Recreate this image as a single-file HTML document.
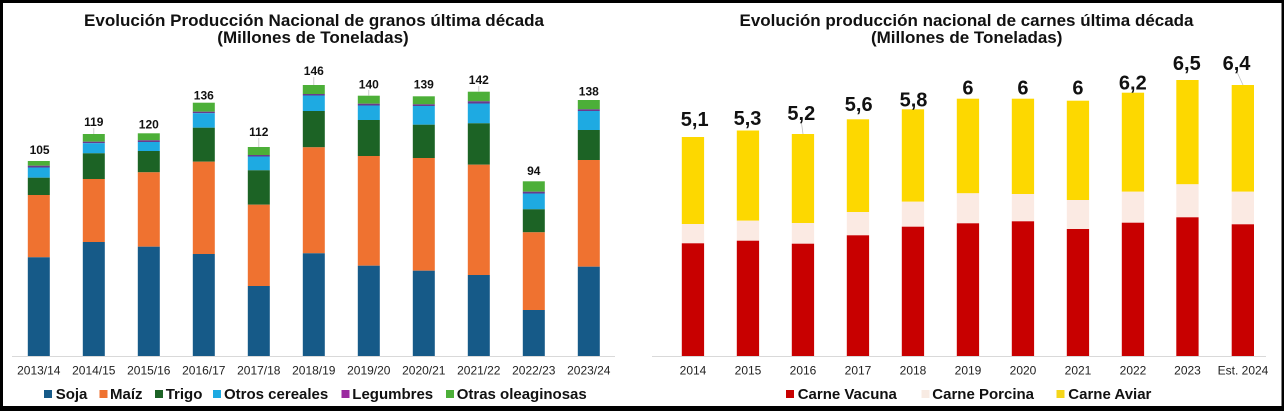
<!DOCTYPE html>
<html><head><meta charset="utf-8">
<style>
html,body{margin:0;padding:0;background:#000;}
svg{display:block;}
text{font-family:"Liberation Sans",Arial,sans-serif;}
</style></head>
<body>
<svg width="1284" height="411" viewBox="0 0 1284 411" xmlns="http://www.w3.org/2000/svg">
<rect x="0" y="0" width="1284" height="411" fill="#000"/>
<rect x="3" y="3" width="1278.5" height="403" fill="#fff"/>

<!-- LEFT TITLE -->
<text x="314" y="26" font-size="17" font-weight="bold" text-anchor="middle" fill="#111" textLength="460" lengthAdjust="spacingAndGlyphs">Evolución Producción Nacional de granos última década</text>
<text x="313" y="43" font-size="17" font-weight="bold" text-anchor="middle" fill="#111">(Millones de Toneladas)</text>

<!-- LEFT AXIS -->
<line x1="12" y1="356.5" x2="615" y2="356.5" stroke="#d9d9d9" stroke-width="1"/>

<g id="leftbars">
<rect x="27.8" y="161" width="22" height="4.7" fill="#4caf38"/>
<rect x="27.8" y="165.7" width="22" height="1.8" fill="#6a3a8e"/>
<rect x="27.8" y="167.5" width="22" height="10.2" fill="#1eaae2"/>
<rect x="27.8" y="177.7" width="22" height="17.3" fill="#1c6325"/>
<rect x="27.8" y="195" width="22" height="62.3" fill="#ef7230"/>
<rect x="27.8" y="257.3" width="22" height="98.7" fill="#165a88"/>

<rect x="82.8" y="134" width="22" height="7.7" fill="#4caf38"/>
<rect x="82.8" y="141.7" width="22" height="1.5" fill="#6a3a8e"/>
<rect x="82.8" y="143.2" width="22" height="10.1" fill="#1eaae2"/>
<rect x="82.8" y="153.3" width="22" height="25.7" fill="#1c6325"/>
<rect x="82.8" y="179" width="22" height="63" fill="#ef7230"/>
<rect x="82.8" y="242" width="22" height="114" fill="#165a88"/>

<rect x="137.8" y="133.3" width="22" height="7" fill="#4caf38"/>
<rect x="137.8" y="140.3" width="22" height="1.7" fill="#6a3a8e"/>
<rect x="137.8" y="142" width="22" height="9" fill="#1eaae2"/>
<rect x="137.8" y="151" width="22" height="21.3" fill="#1c6325"/>
<rect x="137.8" y="172.3" width="22" height="74.4" fill="#ef7230"/>
<rect x="137.8" y="246.7" width="22" height="109.3" fill="#165a88"/>

<rect x="192.8" y="102.7" width="22" height="9" fill="#4caf38"/>
<rect x="192.8" y="111.7" width="22" height="1.5" fill="#6a3a8e"/>
<rect x="192.8" y="113.2" width="22" height="14.5" fill="#1eaae2"/>
<rect x="192.8" y="127.7" width="22" height="34" fill="#1c6325"/>
<rect x="192.8" y="161.7" width="22" height="92.3" fill="#ef7230"/>
<rect x="192.8" y="254" width="22" height="102" fill="#165a88"/>

<rect x="247.8" y="147" width="22" height="8" fill="#4caf38"/>
<rect x="247.8" y="155" width="22" height="1.5" fill="#6a3a8e"/>
<rect x="247.8" y="156.5" width="22" height="13.8" fill="#1eaae2"/>
<rect x="247.8" y="170.3" width="22" height="34.4" fill="#1c6325"/>
<rect x="247.8" y="204.7" width="22" height="81.3" fill="#ef7230"/>
<rect x="247.8" y="286" width="22" height="70" fill="#165a88"/>

<rect x="302.8" y="85" width="22" height="9" fill="#4caf38"/>
<rect x="302.8" y="94" width="22" height="1.5" fill="#6a3a8e"/>
<rect x="302.8" y="95.5" width="22" height="15.5" fill="#1eaae2"/>
<rect x="302.8" y="111" width="22" height="36.3" fill="#1c6325"/>
<rect x="302.8" y="147.3" width="22" height="106" fill="#ef7230"/>
<rect x="302.8" y="253.3" width="22" height="102.7" fill="#165a88"/>

<rect x="357.8" y="95.7" width="22" height="8" fill="#4caf38"/>
<rect x="357.8" y="103.7" width="22" height="1.8" fill="#6a3a8e"/>
<rect x="357.8" y="105.5" width="22" height="14.5" fill="#1eaae2"/>
<rect x="357.8" y="120" width="22" height="36" fill="#1c6325"/>
<rect x="357.8" y="156" width="22" height="109.7" fill="#ef7230"/>
<rect x="357.8" y="265.7" width="22" height="90.3" fill="#165a88"/>

<rect x="412.8" y="96.3" width="22" height="8" fill="#4caf38"/>
<rect x="412.8" y="104.3" width="22" height="1.7" fill="#6a3a8e"/>
<rect x="412.8" y="106" width="22" height="18.7" fill="#1eaae2"/>
<rect x="412.8" y="124.7" width="22" height="33.3" fill="#1c6325"/>
<rect x="412.8" y="158" width="22" height="112.7" fill="#ef7230"/>
<rect x="412.8" y="270.7" width="22" height="85.3" fill="#165a88"/>

<rect x="467.8" y="91.7" width="22" height="9.6" fill="#4caf38"/>
<rect x="467.8" y="101.3" width="22" height="2.2" fill="#6a3a8e"/>
<rect x="467.8" y="103.5" width="22" height="19.8" fill="#1eaae2"/>
<rect x="467.8" y="123.3" width="22" height="41.4" fill="#1c6325"/>
<rect x="467.8" y="164.7" width="22" height="110.3" fill="#ef7230"/>
<rect x="467.8" y="275" width="22" height="81" fill="#165a88"/>

<rect x="522.8" y="181.3" width="22" height="10.4" fill="#4caf38"/>
<rect x="522.8" y="191.7" width="22" height="1.8" fill="#6a3a8e"/>
<rect x="522.8" y="193.5" width="22" height="15.8" fill="#1eaae2"/>
<rect x="522.8" y="209.3" width="22" height="23" fill="#1c6325"/>
<rect x="522.8" y="232.3" width="22" height="77.7" fill="#ef7230"/>
<rect x="522.8" y="310" width="22" height="46" fill="#165a88"/>

<rect x="577.8" y="100" width="22" height="9.3" fill="#4caf38"/>
<rect x="577.8" y="109.3" width="22" height="1.7" fill="#6a3a8e"/>
<rect x="577.8" y="111" width="22" height="19" fill="#1eaae2"/>
<rect x="577.8" y="130" width="22" height="30" fill="#1c6325"/>
<rect x="577.8" y="160" width="22" height="106.7" fill="#ef7230"/>
<rect x="577.8" y="266.7" width="22" height="89.3" fill="#165a88"/>
</g>

<g stroke="#bfbfbf" stroke-width="0.8">
<line x1="93.8" y1="128" x2="93.8" y2="134"/>
<line x1="258.8" y1="138" x2="258.8" y2="147"/>
<line x1="313.8" y1="77" x2="313.8" y2="85"/>
<line x1="368.8" y1="90" x2="368.8" y2="95.7"/>
<line x1="478.8" y1="86" x2="478.8" y2="91.7"/>
</g>

<g font-size="12" font-weight="bold" text-anchor="middle" fill="#111">
<text x="39.6" y="154">105</text>
<text x="93.8" y="126">119</text>
<text x="148.8" y="128.3">120</text>
<text x="203.8" y="99.3">136</text>
<text x="258.8" y="136">112</text>
<text x="313.8" y="75">146</text>
<text x="368.8" y="88.3">140</text>
<text x="423.8" y="88.7">139</text>
<text x="478.8" y="84">142</text>
<text x="533.8" y="175">94</text>
<text x="588.8" y="95.7">138</text>
</g>

<g font-size="12" text-anchor="middle" fill="#222">
<text x="38.8" y="374.5">2013/14</text>
<text x="93.8" y="374.5">2014/15</text>
<text x="148.8" y="374.5">2015/16</text>
<text x="203.8" y="374.5">2016/17</text>
<text x="258.8" y="374.5">2017/18</text>
<text x="313.8" y="374.5">2018/19</text>
<text x="368.8" y="374.5">2019/20</text>
<text x="423.8" y="374.5">2020/21</text>
<text x="478.8" y="374.5">2021/22</text>
<text x="533.8" y="374.5">2022/23</text>
<text x="588.8" y="374.5">2023/24</text>
</g>

<g font-size="15" font-weight="bold" fill="#111">
<rect x="44" y="390" width="8" height="8" fill="#165a88"/><text x="55.7" y="399">Soja</text>
<rect x="99.5" y="390" width="8" height="8" fill="#ef7230"/><text x="110" y="399">Maíz</text>
<rect x="155" y="390" width="8" height="8" fill="#1c6325"/><text x="165.7" y="399">Trigo</text>
<rect x="213" y="390" width="8" height="8" fill="#1eaae2"/><text x="224" y="399">Otros cereales</text>
<rect x="341.5" y="390" width="8" height="8" fill="#9b2aa0"/><text x="352.3" y="399">Legumbres</text>
<rect x="446" y="390" width="8" height="8" fill="#4caf38"/><text x="456.7" y="399">Otras oleaginosas</text>
</g>

<!-- RIGHT TITLE -->
<text x="966.5" y="26" font-size="17" font-weight="bold" text-anchor="middle" fill="#111" textLength="454" lengthAdjust="spacingAndGlyphs">Evolución producción nacional de carnes última década</text>
<text x="966.7" y="43" font-size="17" font-weight="bold" text-anchor="middle" fill="#111">(Millones de Toneladas)</text>

<line x1="652" y1="356.5" x2="1266" y2="356.5" stroke="#d9d9d9" stroke-width="1"/>

<g id="rightbars">
<rect x="681.8" y="137" width="22.3" height="87" fill="#fdd800"/>
<rect x="681.8" y="224" width="22.3" height="19.3" fill="#fbeae3"/>
<rect x="681.8" y="243.3" width="22.3" height="112.7" fill="#c80000"/>

<rect x="736.8" y="130.5" width="22.3" height="90.2" fill="#fdd800"/>
<rect x="736.8" y="220.7" width="22.3" height="20" fill="#fbeae3"/>
<rect x="736.8" y="240.7" width="22.3" height="115.3" fill="#c80000"/>

<rect x="791.8" y="134" width="22.3" height="89" fill="#fdd800"/>
<rect x="791.8" y="223" width="22.3" height="20.7" fill="#fbeae3"/>
<rect x="791.8" y="243.7" width="22.3" height="112.3" fill="#c80000"/>

<rect x="846.8" y="119.3" width="22.3" height="92.7" fill="#fdd800"/>
<rect x="846.8" y="212" width="22.3" height="23.3" fill="#fbeae3"/>
<rect x="846.8" y="235.3" width="22.3" height="120.7" fill="#c80000"/>

<rect x="901.8" y="109.3" width="22.3" height="92.4" fill="#fdd800"/>
<rect x="901.8" y="201.7" width="22.3" height="25" fill="#fbeae3"/>
<rect x="901.8" y="226.7" width="22.3" height="129.3" fill="#c80000"/>

<rect x="956.8" y="98.7" width="22.3" height="94.6" fill="#fdd800"/>
<rect x="956.8" y="193.3" width="22.3" height="30" fill="#fbeae3"/>
<rect x="956.8" y="223.3" width="22.3" height="132.7" fill="#c80000"/>

<rect x="1011.8" y="98.7" width="22.3" height="95.3" fill="#fdd800"/>
<rect x="1011.8" y="194" width="22.3" height="27.3" fill="#fbeae3"/>
<rect x="1011.8" y="221.3" width="22.3" height="134.7" fill="#c80000"/>

<rect x="1066.8" y="100.7" width="22.3" height="99.3" fill="#fdd800"/>
<rect x="1066.8" y="200" width="22.3" height="29" fill="#fbeae3"/>
<rect x="1066.8" y="229" width="22.3" height="127" fill="#c80000"/>

<rect x="1121.8" y="92.7" width="22.3" height="99" fill="#fdd800"/>
<rect x="1121.8" y="191.7" width="22.3" height="31" fill="#fbeae3"/>
<rect x="1121.8" y="222.7" width="22.3" height="133.3" fill="#c80000"/>

<rect x="1176.3" y="80" width="22.3" height="104.3" fill="#fdd800"/>
<rect x="1176.3" y="184.3" width="22.3" height="33" fill="#fbeae3"/>
<rect x="1176.3" y="217.3" width="22.3" height="138.7" fill="#c80000"/>

<rect x="1231.7" y="85" width="22.3" height="106.7" fill="#fdd800"/>
<rect x="1231.7" y="191.7" width="22.3" height="32.6" fill="#fbeae3"/>
<rect x="1231.7" y="224.3" width="22.3" height="131.7" fill="#c80000"/>
</g>

<g stroke="#bfbfbf" stroke-width="0.8">
<line x1="801.5" y1="123" x2="803" y2="134"/>
<line x1="1237" y1="72" x2="1243" y2="85"/>
</g>

<g font-size="20" font-weight="bold" text-anchor="middle" fill="#111">
<text x="694.7" y="126">5,1</text>
<text x="747.5" y="125">5,3</text>
<text x="801.3" y="120">5,2</text>
<text x="858.7" y="111">5,6</text>
<text x="913.5" y="106.7">5,8</text>
<text x="967.9" y="94.3">6</text>
<text x="1022.9" y="94.3">6</text>
<text x="1077.9" y="94.3">6</text>
<text x="1132.8" y="89.3">6,2</text>
<text x="1186.8" y="70">6,5</text>
<text x="1236.5" y="70">6,4</text>
</g>

<g font-size="12" text-anchor="middle" fill="#222">
<text x="693" y="374.5">2014</text>
<text x="748" y="374.5">2015</text>
<text x="803" y="374.5">2016</text>
<text x="858" y="374.5">2017</text>
<text x="913" y="374.5">2018</text>
<text x="968" y="374.5">2019</text>
<text x="1023" y="374.5">2020</text>
<text x="1078" y="374.5">2021</text>
<text x="1133" y="374.5">2022</text>
<text x="1187.5" y="374.5">2023</text>
<text x="1243" y="374.5">Est. 2024</text>
</g>

<g font-size="15" font-weight="bold" fill="#111">
<rect x="786" y="390" width="8" height="8" fill="#c80000"/><text x="797.7" y="399">Carne Vacuna</text>
<rect x="921.5" y="390" width="8" height="8" fill="#f8ebe3"/><text x="932.3" y="399">Carne Porcina</text>
<rect x="1056.5" y="390" width="8" height="8" fill="#f5d61a"/><text x="1068.3" y="399">Carne Aviar</text>
</g>
</svg>
</body></html>
